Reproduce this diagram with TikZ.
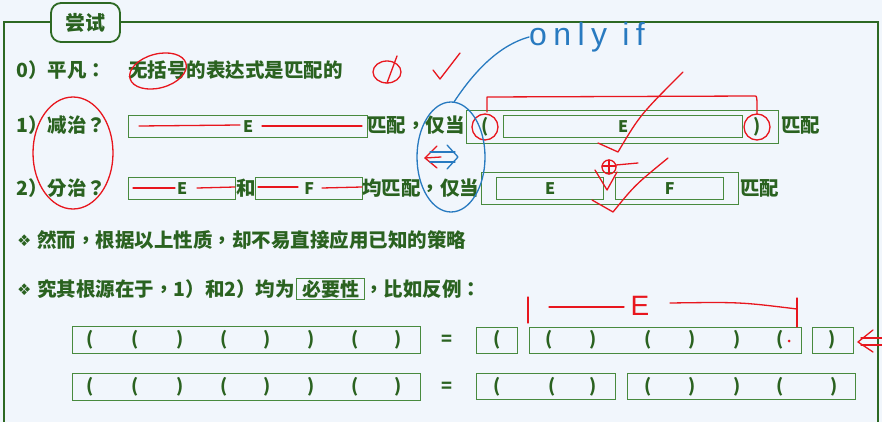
\documentclass[tikz,border=0pt]{standalone}
\usepackage{fontspec}
\setmainfont{Noto Sans CJK TC}
\newfontfamily\symfont{DejaVu Sans}
\newfontfamily\hand{Liberation Sans}[LetterSpace=20]
\newfontfamily\handE{Liberation Sans}
\definecolor{bgc}{RGB}{241,246,252}
\definecolor{tgreen}{RGB}{42,98,32}
\definecolor{bgreen}{RGB}{72,138,62}
\definecolor{fgreen}{RGB}{45,105,35}
\definecolor{pred}{RGB}{232,22,30}
\definecolor{pblue}{RGB}{40,122,192}
\begin{document}
\begin{tikzpicture}[x=1pt,y=-1pt,
  txt/.style={anchor=base west,inner sep=0,text=tgreen,font=\fontsize{19.5}{19.5}\selectfont\bfseries},
  gbox/.style={draw=bgreen,line width=1.2pt,inner sep=0,anchor=north west,text=tgreen,font=\fontsize{16}{16}\selectfont\bfseries},
  paren/.style={text=tgreen,inner sep=0,font=\fontsize{18}{18}\selectfont\bfseries},
  redpen/.style={draw=pred,line width=1.3pt,line cap=round,line join=round},
  bluepen/.style={draw=pblue,line width=1.3pt,line cap=round,line join=round}]
\fill[bgc] (0,0) rectangle (882,422);
\useasboundingbox (0,0) rectangle (882,422);
% frame
\draw[fgreen,line width=1.6pt] (4,440) -- (4,22) -- (878,22) -- (878,440);
\node[draw=fgreen,line width=1.8pt,rounded corners=10pt,fill=bgc,minimum width=69pt,minimum height=39pt,inner sep=0,text=tgreen,font=\fontsize{20}{20}\selectfont\bfseries] (title) at (85.5,22.5) {尝试};
% line 0
\node[txt] (l0a) at (16,78) {0）平凡：};
\node[txt] (l0b) at (128,78) {无括号的表达式是匹配的};
% line 1
\node[txt] (l1a) at (16,133) {1）减治？};
\node[gbox,minimum width=239pt,minimum height=22pt] (e1) at (128,115) {E};
\node[txt] (l1b) at (367,133) {匹配，仅当};
\node[gbox,minimum width=312pt,minimum height=33pt] (b1) at (466,110) {};
\node[gbox,minimum width=239pt,minimum height=22pt] (ie1) at (503,115) {E};
\node[paren] (lp1) at (485,127) {(};
\node[paren] (rp1) at (757,127) {)};
\node[txt] (l1c) at (781,133) {匹配};
% line 2
\node[txt] (l2a) at (16,195) {2）分治？};
\node[gbox,minimum width=107pt,minimum height=22pt] (e2) at (128,177) {E};
\node[txt] (l2and) at (236,195) {和};
\node[gbox,minimum width=107pt,minimum height=22pt] (f2) at (255,177) {F};
\node[txt] (l2b) at (362,195) {均匹配，仅当};
\node[gbox,minimum width=257pt,minimum height=32pt] (b2) at (481,172) {};
\node[gbox,minimum width=107pt,minimum height=22pt] (ie2) at (496,177) {E};
\node[gbox,minimum width=108pt,minimum height=22pt] (if2) at (615,177) {F};
\node[txt] (l2c) at (740,195) {匹配};
% line 3
\node[anchor=base west,inner sep=0,text=tgreen,font=\symfont\fontsize{16}{16}\selectfont] (d3) at (17,246) {❖};
\node[txt] (l3) at (37,247) {然而，根据以上性质，却不易直接应用已知的策略};
% line 4
\node[anchor=base west,inner sep=0,text=tgreen,font=\symfont\fontsize{16}{16}\selectfont] (d4) at (17,295) {❖};
\node[txt] (l4a) at (37,296) {究其根源在于，1）和2）均为};
\node[gbox,minimum width=68pt,minimum height=21pt,font=\fontsize{19}{19}\selectfont\bfseries] (nec) at (296,278) {必要性};
\node[txt] (l4b) at (364,296) {，比如反例：};
% rows
\node[gbox,minimum width=348pt,minimum height=27pt] (ra) at (72,326) {};
\node[gbox,minimum width=348pt,minimum height=27pt] (rb) at (72,373) {};
\foreach \x/\c [count=\i] in {90/(,135/(,180/),224/(,267/),311/),355/(,398/)}{
  \node[paren] (pa\i) at (\x,339.5) {\c};
  \node[paren] (pb\i) at (\x,386.5) {\c};
}
\node[paren] (eqa) at (447,340) {=};
\node[paren] (eqb) at (447,387) {=};
\node[gbox,minimum width=41pt,minimum height=26pt] (a1) at (476,327) {};
\node[gbox,minimum width=272pt,minimum height=26pt] (a2) at (529,327) {};
\node[gbox,minimum width=41pt,minimum height=26pt] (a3) at (812,327) {};
\foreach \x/\c [count=\i] in {497/(,549/(,593/),648/(,692/),737/),780/(,832/)}{
  \node[paren] (qa\i) at (\x,339.5) {\c};
}
\node[gbox,minimum width=139pt,minimum height=26pt] (c1) at (476,373) {};
\node[gbox,minimum width=228pt,minimum height=26pt] (c2) at (627,373) {};
\foreach \x/\c [count=\i] in {497/(,552/(,593/),648/(,692/),737/),780/(,834/)}{
  \node[paren] (qb\i) at (\x,386.5) {\c};
}
% ---- red annotations ----
\draw[redpen,rotate around={15:(158,71)}] (158,71) ellipse (29 and 17);
\draw[redpen] (387,72) ellipse (14 and 11);
\draw[redpen] (397,56) -- (387,83);
\draw[redpen] (433,70) -- (440,79) -- (460,53);
\draw[redpen] (73,153) ellipse (40 and 56);
\draw[redpen] (139,126) -- (240,125);
\draw[redpen] (262,126) -- (362,126);
\draw[redpen] (133,188) -- (175,188);
\draw[redpen] (197,188) -- (235,187);
\draw[redpen] (258,187) -- (298,187);
\draw[redpen] (322,188) -- (362,187);
\draw[redpen] (lp1) circle (13);
\draw[redpen] (rp1) circle (13);
\draw[redpen] (487,112) -- (487,97) -- (755,96) .. controls (757,96) .. (757,114);
\draw[redpen] (598,143) -- (618,152) .. controls (640,115) .. (683,72);
\draw[redpen] (609,167) circle (7);
\draw[redpen] (602,166) -- (616,166) (609,160) -- (609,174);
\draw[redpen] (616,165) -- (638,163);
\draw[redpen] (595,170) -- (607,190) -- (617,172);
\draw[redpen] (592,200) -- (613,212) .. controls (635,185) .. (668,158);
\draw[redpen] (437,146) -- (425,158) -- (437,168);
\draw[redpen] (425,158) -- (441,157);
\draw[redpen] (873,330) -- (858,342) -- (873,352);
\draw[redpen] (861,338) -- (882,338) (861,345) -- (882,345);
\draw[redpen] (528,297) -- (528,323);
\draw[redpen] (549,307) -- (624,307);
\node[inner sep=0,text=pred,font=\handE\fontsize{28}{28}\selectfont] (redE) at (640,306) {E};
\draw[redpen] (670,303) .. controls (740,302) .. (797,309);
\draw[redpen] (797,298) -- (797,327);
\fill[pred] (789,341) circle (1.5);
% ---- blue annotations ----
\draw[bluepen] (451,157) ellipse (34 and 55);
\draw[bluepen] (430,152) -- (455,152) (430,162) -- (455,162);
\draw[bluepen] (447,145) -- (458,157) -- (447,169);
\node[anchor=west,inner sep=0,text=pblue,font=\hand\fontsize{32}{32}\selectfont] (onlyif) at (529,37) {only if};
\coordinate (etop) at (454,102);
\draw[bluepen] (etop) .. controls (475,70) and (500,45) .. (onlyif.west);
\end{tikzpicture}
\end{document}
